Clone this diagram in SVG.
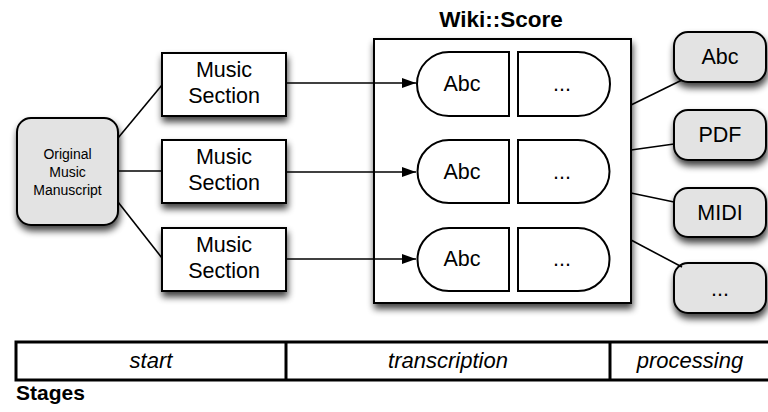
<svg xmlns="http://www.w3.org/2000/svg" width="768" height="412" viewBox="0 0 768 412">
<defs>
<filter id="sh" x="-20%" y="-20%" width="150%" height="170%">
<feGaussianBlur in="SourceAlpha" stdDeviation="3.5"/>
<feOffset dx="1" dy="5" result="b"/>
<feComponentTransfer in="b" result="s"><feFuncA type="linear" slope="0.75"/></feComponentTransfer>
<feMerge><feMergeNode in="s"/><feMergeNode in="SourceGraphic"/></feMerge>
</filter>
<marker id="arr" markerWidth="14" markerHeight="10" refX="14" refY="5" orient="auto" markerUnits="userSpaceOnUse">
<path d="M0,0 L14,5 L0,10 Z" fill="#000"/>
</marker>
<style>
text{font-family:"Liberation Sans",Arial,sans-serif;fill:#000}
.gray{fill:#e3e3e3;stroke:#000;stroke-width:2}
.white{fill:#fff;stroke:#000;stroke-width:2}
.line{stroke:#000;stroke-width:1.6;fill:none}
.t18{font-size:21.5px;text-anchor:middle}
.t12{font-size:14px;text-anchor:middle}
.b{font-weight:bold}
.it{font-style:italic;font-size:22px;text-anchor:middle}
</style>
</defs>

<g id="manuscript">
<rect class="gray" x="17" y="118" width="101" height="107" rx="14" filter="url(#sh)"/>
<text class="t12" x="67.5" y="159">Original</text>
<text class="t12" x="67.5" y="177">Music</text>
<text class="t12" x="67.5" y="195">Manuscript</text>
</g>

<g id="section1">
<rect class="white" x="162" y="53" width="124" height="63" filter="url(#sh)"/>
<text class="t18" x="224" y="77">Music</text>
<text class="t18" x="224" y="103">Section</text>
</g>
<g id="section2">
<rect class="white" x="162" y="140" width="124" height="63" filter="url(#sh)"/>
<text class="t18" x="224" y="164">Music</text>
<text class="t18" x="224" y="190">Section</text>
</g>
<g id="section3">
<rect class="white" x="162" y="228" width="124" height="63" filter="url(#sh)"/>
<text class="t18" x="224" y="252">Music</text>
<text class="t18" x="224" y="278">Section</text>
</g>

<g id="wikiscore">
<text class="b" x="501" y="27" text-anchor="middle" font-size="22.5px">Wiki::Score</text>
<rect class="white" x="374" y="39" width="257" height="264" filter="url(#sh)"/>
<g id="abc1">
<path class="white" d="M509,52 L449,52 A32,32 0 0 0 449,116 L509,116 Z"/>
<text class="t18" x="462" y="91">Abc</text>
</g>
<g id="more1">
<path class="white" d="M518,52 L578,52 A32,32 0 0 1 578,116 L518,116 Z"/>
<text class="t18" x="562" y="91">...</text>
</g>
<g id="abc2">
<path class="white" d="M509,140 L449,140 A31.5,31.5 0 0 0 449,203 L509,203 Z"/>
<text class="t18" x="462" y="179">Abc</text>
</g>
<g id="more2">
<path class="white" d="M518,140 L578,140 A31.5,31.5 0 0 1 578,203 L518,203 Z"/>
<text class="t18" x="562" y="179">...</text>
</g>
<g id="abc3">
<path class="white" d="M509,228 L449,228 A31.5,31.5 0 0 0 449,291 L509,291 Z"/>
<text class="t18" x="462" y="266">Abc</text>
</g>
<g id="more3">
<path class="white" d="M518,228 L578,228 A31.5,31.5 0 0 1 578,291 L518,291 Z"/>
<text class="t18" x="562" y="266">...</text>
</g>
</g>

<g id="out-abc">
<rect class="gray" x="674" y="32" width="92" height="50" rx="14" filter="url(#sh)"/>
<text class="t18" x="720" y="64">Abc</text>
</g>
<g id="out-pdf">
<rect class="gray" x="674" y="110" width="92" height="50" rx="14" filter="url(#sh)"/>
<text class="t18" x="720" y="142">PDF</text>
</g>
<g id="out-midi">
<rect class="gray" x="674" y="188" width="92" height="49" rx="14" filter="url(#sh)"/>
<text class="t18" x="720" y="220">MIDI</text>
</g>
<g id="out-more">
<rect class="gray" x="674" y="263" width="92" height="50" rx="14" filter="url(#sh)"/>
<text class="t18" x="720" y="296">...</text>
</g>

<g id="connectors">
<line class="line" x1="118" y1="138" x2="162" y2="85"/>
<line class="line" x1="118" y1="171" x2="162" y2="171"/>
<line class="line" x1="118" y1="202" x2="162" y2="258"/>
<line class="line" x1="286" y1="83" x2="416" y2="83" marker-end="url(#arr)"/>
<line class="line" x1="286" y1="172" x2="416" y2="172" marker-end="url(#arr)"/>
<line class="line" x1="286" y1="259" x2="416" y2="259" marker-end="url(#arr)"/>
<line class="line" x1="631" y1="105" x2="682" y2="80"/>
<line class="line" x1="631" y1="150" x2="674" y2="144"/>
<line class="line" x1="631" y1="193" x2="674" y2="202"/>
<line class="line" x1="631" y1="240" x2="682" y2="267"/>
</g>

<g id="stages">
<rect x="16" y="342" width="760" height="38" fill="#fff" stroke="#000" stroke-width="3"/>
<line x1="286" y1="342" x2="286" y2="380" stroke="#000" stroke-width="3"/>
<line x1="610" y1="342" x2="610" y2="380" stroke="#000" stroke-width="3"/>
<text class="it" x="151" y="368">start</text>
<text class="it" x="448" y="368">transcription</text>
<text class="it" x="690" y="368">processing</text>
<text class="b" x="16" y="400" font-size="21px">Stages</text>
</g>
</svg>
